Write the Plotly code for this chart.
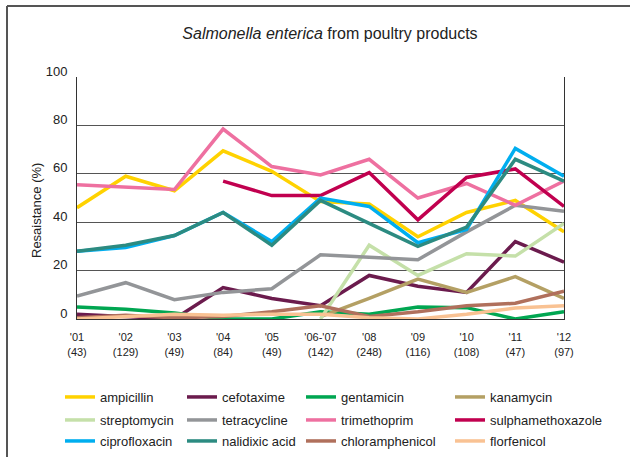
import plotly.graph_objects as go

# Sampling years (with number of isolates tested)
years = ["'01<br>(43)", "'02<br>(129)", "'03<br>(49)", "'04<br>(84)", "'05<br>(49)",
         "'06-'07<br>(142)", "'08<br>(248)", "'09<br>(116)", "'10<br>(108)",
         "'11<br>(47)", "'12<br>(97)"]

# Resistance (%) per antimicrobial
ampicillin        = [46, 59, 53, 69.5, 61, 48.5, 47.5, 34, 44, 49, 36]
cefotaxime        = [2, 1, 0, 13, 8.5, 5.5, 18, 13.5, 11, 32, 23.5]
gentamicin        = [5, 4, 2.5, 0, 0, 3, 2, 5, 4.7, 0, 3]
kanamycin         = [None, None, None, None, None, 1, 8.5, 16.5, 11, 17.5, 8.5]
streptomycin      = [None, None, None, None, None, 0, 30.5, 18, 27, 26, 39.5]
tetracycline      = [9.5, 15, 8, 11, 12.5, 26.5, 25.5, 24.5, 36, 47, 44.5]
trimethoprim      = [55.5, 54.5, 53.5, 78.5, 63, 59.5, 66, 50, 56, 47, 57]
sulphamethoxazole = [None, None, None, 57, 51, 51, 60.5, 41, 58.5, 62, 46.5]
ciprofloxacin     = [28, 29.5, 34.5, 44, 32, 50, 46.5, 31.5, 37, 70.5, 59]
nalidixic_acid    = [28, 30.5, 34.5, 44, 30.5, 49, 39.5, 30, 38, 66, 57]
chloramphenicol   = [0.5, 1.5, 0.5, 1, 3, 5.5, 1, 3, 5.5, 6.5, 11.5]
florfenicol       = [0, 1, 2, 1.5, 2, 2, 0.5, 0, 2, 4.5, 5.5]

series = [
    ("ampicillin", ampicillin, "#ffd200"),
    ("cefotaxime", cefotaxime, "#6b1b4d"),
    ("gentamicin", gentamicin, "#00a651"),
    ("kanamycin", kanamycin, "#b4a064"),
    ("streptomycin", streptomycin, "#c5e0a9"),
    ("tetracycline", tetracycline, "#939598"),
    ("trimethoprim", trimethoprim, "#ee70a0"),
    ("sulphamethoxazole", sulphamethoxazole, "#c1004f"),
    ("ciprofloxacin", ciprofloxacin, "#00aeef"),
    ("nalidixic acid", nalidixic_acid, "#2c8b81"),
    ("chloramphenicol", chloramphenicol, "#b0705c"),
    ("florfenicol", florfenicol, "#f9c293"),
]

FONT = "Liberation Sans, Arial, sans-serif"

L, R, T, B = 77, 66, 77, 138
W, H = 630, 457
pw, ph = W - L - R, H - T - B


def px_x(px):
    return (px - L) / pw


def px_y(py):
    return (H - B - py) / ph


# legend grid: 4 columns x 3 rows below the plot
col_left = [60, 182, 301, 450]
row_top = [382, 405, 426]

fig = go.Figure()
legends = {}
for i, (name, vals, color) in enumerate(series):
    key = "legend" if i == 0 else f"legend{i + 1}"
    fig.add_trace(go.Scatter(
        x=years, y=vals, name=name, mode="lines",
        line=dict(color=color, width=3.5),
        connectgaps=False, legend=key,
    ))
    legends[key] = dict(
        x=px_x(col_left[i % 4]), y=px_y(row_top[i // 4]),
        xanchor="left", yanchor="top", orientation="v",
        bgcolor="rgba(0,0,0,0)", borderwidth=0, itemwidth=30,
        font=dict(family=FONT, size=13, color="#222"),
        itemclick=False, itemdoubleclick=False,
    )

fig.update_layout(
    width=W, height=H,
    margin=dict(l=L, r=R, t=T, b=B, autoexpand=False),
    paper_bgcolor="white", plot_bgcolor="white",
    title=dict(text="<i>Salmonella enterica</i> from poultry products",
               x=330 / W, xref="container", xanchor="center",
               y=1 - 33 / H, yref="container", yanchor="middle",
               font=dict(family=FONT, size=16, color="#222")),
    xaxis=dict(
        showgrid=False, showline=True, linecolor="#333", linewidth=1,
        mirror=False, ticks="", range=[0, 10],
        tickfont=dict(family=FONT, size=11, color="#222"),
        ticklabelstandoff=8,
    ),
    yaxis=dict(
        range=[0, 100], tickvals=[0, 20, 40, 60, 80, 100],
        showgrid=True, gridcolor="#555", gridwidth=1,
        showline=True, linecolor="#333", linewidth=1, mirror=True,
        zeroline=False, ticks="",
        tickfont=dict(family=FONT, size=13, color="#222"),
        ticklabelstandoff=6, ticklabelshift=-6,
    ),
    annotations=[dict(
        text="Resaistance (%)", textangle=-90,
        x=px_x(37), y=px_y(211), xref="paper", yref="paper",
        xanchor="center", yanchor="middle",
        showarrow=False, font=dict(family=FONT, size=13, color="#222"),
    )],
    shapes=[
        # outer frame (left and top edges)
        dict(type="line", xref="paper", yref="paper",
             x0=px_x(7), x1=px_x(7), y0=px_y(6), y1=px_y(H + 5),
             line=dict(color="#555", width=2)),
        dict(type="line", xref="paper", yref="paper",
             x0=px_x(7), x1=px_x(W + 5), y0=px_y(6), y1=px_y(6),
             line=dict(color="#555", width=2)),
    ],
    showlegend=True,
    **legends,
)

fig.write_html("out.html")
